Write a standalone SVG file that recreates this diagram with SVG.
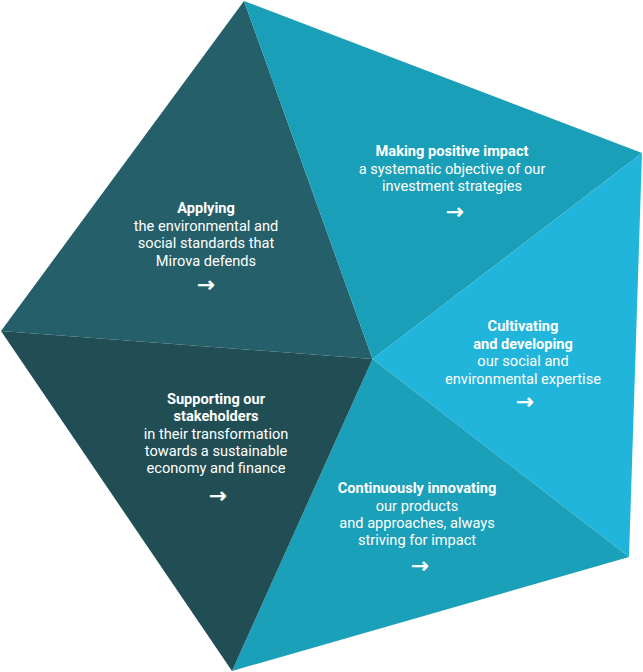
<svg xmlns="http://www.w3.org/2000/svg" width="643" height="672" viewBox="0 0 643 672">
<style>
.t{font-family:Roboto,"Liberation Sans",sans-serif;font-size:14.6px;fill:#fff;text-anchor:middle}
.b{font-weight:bold}
.a{font-family:"DejaVu Sans",sans-serif;font-size:21px;fill:#fff;stroke:#fff;stroke-width:0.6;text-anchor:middle}
</style>
<rect width="643" height="672" fill="#fff"/>
<g id="applying">
<polygon points="244,1 372.5,359 1,331" fill="#255f6a"/>
<text class="t b" x="206" y="213">Applying</text>
<text class="t" x="206" y="231">the environmental and</text>
<text class="t" x="206" y="248">social standards that</text>
<text class="t" x="206" y="266">Mirova defends</text>
<text class="a" x="206" y="292">→</text>
</g>
<g id="making">
<polygon points="244,1 642,153 372.5,359" fill="#1a9fb8"/>
<text class="t b" x="452" y="156">Making positive impact</text>
<text class="t" x="452" y="174">a systematic objective of our</text>
<text class="t" x="452" y="191">investment strategies</text>
<text class="a" x="455" y="219">→</text>
</g>
<g id="cultivating">
<polygon points="642,153 629,557 372.5,359" fill="#21b5db"/>
<text class="t b" x="523" y="331">Cultivating</text>
<text class="t b" x="523" y="349">and developing</text>
<text class="t" x="523" y="366">our social and</text>
<text class="t" x="523" y="384">environmental expertise</text>
<text class="a" x="525" y="409">→</text>
</g>
<g id="continuously">
<polygon points="629,557 232,671 372.5,359" fill="#1aa0b9"/>
<text class="t b" x="417" y="493">Continuously innovating</text>
<text class="t" x="417" y="511">our products</text>
<text class="t" x="417" y="528">and approaches, always</text>
<text class="t" x="417" y="545">striving for impact</text>
<text class="a" x="420" y="573">→</text>
</g>
<g id="supporting">
<polygon points="232,671 1,331 372.5,359" fill="#214e55"/>
<text class="t b" x="216" y="404">Supporting our</text>
<text class="t b" x="216" y="421">stakeholders</text>
<text class="t" x="216" y="439">in their transformation</text>
<text class="t" x="216" y="456">towards a sustainable</text>
<text class="t" x="216" y="473">economy and finance</text>
<text class="a" x="218" y="503">→</text>
</g>
<g id="connectors"></g>
</svg>
